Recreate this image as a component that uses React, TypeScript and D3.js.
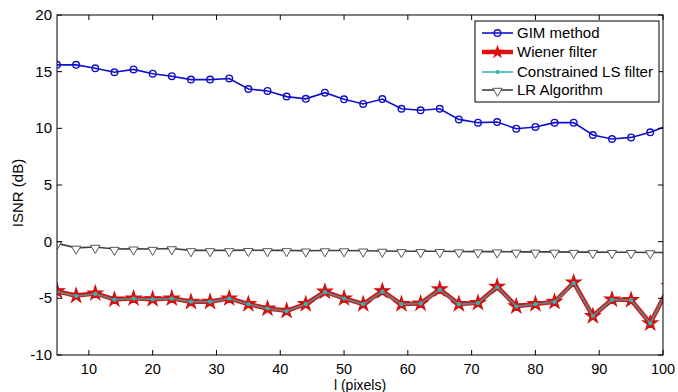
import React from 'react';
import * as d3 from 'd3';

// sample positions l (pixels); last point sits past the axis and gets clipped
const lValues = [5, 8, 11, 14, 17, 20, 23, 26, 29, 32, 35, 38, 41, 44, 47, 50, 53, 56, 59, 62, 65, 68, 71, 74, 77, 80, 83, 86, 89, 92, 95, 98, 101];

const gimValues = [15.6, 15.6, 15.3, 14.95, 15.2, 14.82, 14.6, 14.3, 14.3, 14.4, 13.47, 13.3, 12.8, 12.6, 13.15, 12.56, 12.15, 12.59, 11.73, 11.59, 11.73, 10.79, 10.5, 10.56, 9.97, 10.12, 10.5, 10.5, 9.41, 9.06, 9.2, 9.65, 10.3];
const wienerValues = [-4.36, -4.77, -4.56, -5.1, -5.0, -5.07, -5.0, -5.3, -5.3, -5.0, -5.5, -5.9, -6.1, -5.5, -4.4, -5.0, -5.5, -4.36, -5.5, -5.45, -4.2, -5.5, -5.4, -3.97, -5.7, -5.5, -5.3, -3.6, -6.56, -5.1, -5.15, -7.2, -3.9];
const clsValues = [-4.4, -4.8, -4.6, -5.12, -5.02, -5.08, -5.02, -5.3, -5.3, -5.02, -5.52, -5.9, -6.12, -5.52, -4.45, -5.02, -5.52, -4.4, -5.52, -5.45, -4.25, -5.52, -5.42, -4.0, -5.72, -5.52, -5.32, -3.65, -6.56, -5.12, -5.15, -7.2, -3.9];
const lrValues = [-0.15, -0.55, -0.47, -0.65, -0.62, -0.65, -0.6, -0.77, -0.77, -0.77, -0.75, -0.77, -0.77, -0.8, -0.78, -0.78, -0.8, -0.82, -0.85, -0.85, -0.85, -0.87, -0.88, -0.88, -0.9, -0.9, -0.9, -0.92, -0.92, -0.93, -0.93, -0.95, -0.95];

const xTicks = [10, 20, 30, 40, 50, 60, 70, 80, 90, 100];
const yTicks = [-10, -5, 0, 5, 10, 15, 20];

const legendLabels = ['GIM method', 'Wiener filter', 'Constrained LS filter', 'LR Algorithm'];

const W = 678;
const H = 392;
const margin = { left: 57, right: 15, top: 15, bottom: 37 };
const font = '"Liberation Sans", Arial, sans-serif';

export default function App() {
  const x = d3.scaleLinear().domain([5, 100]).range([margin.left, W - margin.right]);
  const y = d3.scaleLinear().domain([-10, 20]).range([H - margin.bottom, margin.top]);

  const line = d3.line<number>()
    .x((_, i) => x(lValues[i]))
    .y(d => y(d));

  const star = d3.symbol().type(d3.symbolStar).size(65)();
  const tri = d3.symbol().type(d3.symbolTriangle).size(38)();
  const dot = d3.symbol().type(d3.symbolCircle).size(14)();

  const x0 = x.range()[0], x1 = x.range()[1];
  const y0 = y.range()[0], y1 = y.range()[1];
  const tick = 5;

  const legendX = 475, legendY = 21;
  const rowY = [33, 52, 72, 90];

  return (
    <svg width={W} height={H} style={{ position: 'absolute', left: 0, top: 0, background: '#fff' }} fontFamily={font}>
      <defs>
        <clipPath id="plot">
          <rect x={x0} y={y1} width={x1 - x0} height={y0 - y1} />
        </clipPath>
      </defs>
      <rect x={0} y={0} width={W} height={H} fill="#fff" />

      <g clipPath="url(#plot)">
        {/* GIM */}
        <path d={line(gimValues) || ''} fill="none" stroke="#1010c8" strokeWidth={1.6} />
        {gimValues.map((v, i) => (
          <circle key={'g' + i} cx={x(lValues[i])} cy={y(v)} r={3.3} fill="none" stroke="#1010c8" strokeWidth={1.4} />
        ))}
        {/* LR */}
        <path d={line(lrValues) || ''} fill="none" stroke="#404040" strokeWidth={1.6} />
        {lrValues.map((v, i) => (
          <path key={'t' + i} d={tri} transform={`translate(${x(lValues[i])},${y(v) + 1}) rotate(180)`} fill="#fff" stroke="#555" strokeWidth={1} />
        ))}
        {/* Wiener */}
        <path d={line(wienerValues) || ''} fill="none" stroke="#d01818" strokeWidth={4.5} strokeLinejoin="round" />
        {wienerValues.map((v, i) => (
          <path key={'w' + i} d={star} transform={`translate(${x(lValues[i])},${y(v)})`} fill="#e01010" stroke="#d01010" strokeWidth={1.2} />
        ))}
        {/* Constrained LS */}
        <path d={line(clsValues) || ''} fill="none" stroke="#6a7e7e" strokeWidth={1.8} />
        {clsValues.map((v, i) => (
          <path key={'c' + i} d={dot} transform={`translate(${x(lValues[i])},${y(v)})`} fill="#2fb4b4" />
        ))}
      </g>

      {/* axes box */}
      <rect x={x0} y={y1} width={x1 - x0} height={y0 - y1} fill="none" stroke="#000" strokeWidth={1} />
      {xTicks.map(t => (
        <g key={'xt' + t}>
          <line x1={x(t)} x2={x(t)} y1={y0} y2={y0 - tick} stroke="#000" />
          <line x1={x(t)} x2={x(t)} y1={y1} y2={y1 + tick} stroke="#000" />
          <text x={x(t)} y={y0 + 19} textAnchor="middle" fontSize={14.5} fill="#000">{t}</text>
        </g>
      ))}
      {yTicks.map(t => (
        <g key={'yt' + t}>
          <line x1={x0} x2={x0 + tick} y1={y(t)} y2={y(t)} stroke="#000" />
          <line x1={x1} x2={x1 - tick} y1={y(t)} y2={y(t)} stroke="#000" />
          <text x={x0 - 5} y={y(t) + 5} textAnchor="end" fontSize={15} fill="#000">{t}</text>
        </g>
      ))}
      <text x={(x0 + x1) / 2} y={390} textAnchor="middle" fontSize={14} fill="#000">l (pixels)</text>
      <text transform={`translate(23,193) rotate(-90)`} textAnchor="middle" fontSize={15} fill="#000">ISNR (dB)</text>

      {/* legend */}
      <rect x={legendX} y={legendY} width={184} height={81} fill="#fff" stroke="#000" strokeWidth={1} />
      <line x1={482} x2={513} y1={rowY[0]} y2={rowY[0]} stroke="#1010c8" strokeWidth={1.6} />
      <circle cx={497.5} cy={rowY[0]} r={3.3} fill="none" stroke="#1010c8" strokeWidth={1.4} />
      <line x1={482} x2={513} y1={rowY[1]} y2={rowY[1]} stroke="#e01010" strokeWidth={4.5} />
      <path d={star} transform={`translate(497.5,${rowY[1]})`} fill="#e01010" />
      <line x1={482} x2={513} y1={rowY[2]} y2={rowY[2]} stroke="#2fc0c0" strokeWidth={1.6} />
      <path d={dot} transform={`translate(497.5,${rowY[2]})`} fill="#2fb4b4" />
      <line x1={482} x2={513} y1={rowY[3]} y2={rowY[3]} stroke="#404040" strokeWidth={1.6} />
      <path d={tri} transform={`translate(497.5,${rowY[3] + 1}) rotate(180)`} fill="#fff" stroke="#555" strokeWidth={1} />
      {legendLabels.map((s, i) => (
        <text key={s} x={517} y={rowY[i] + 5} fontSize={15} fill="#000">{s}</text>
      ))}
    </svg>
  );
}
